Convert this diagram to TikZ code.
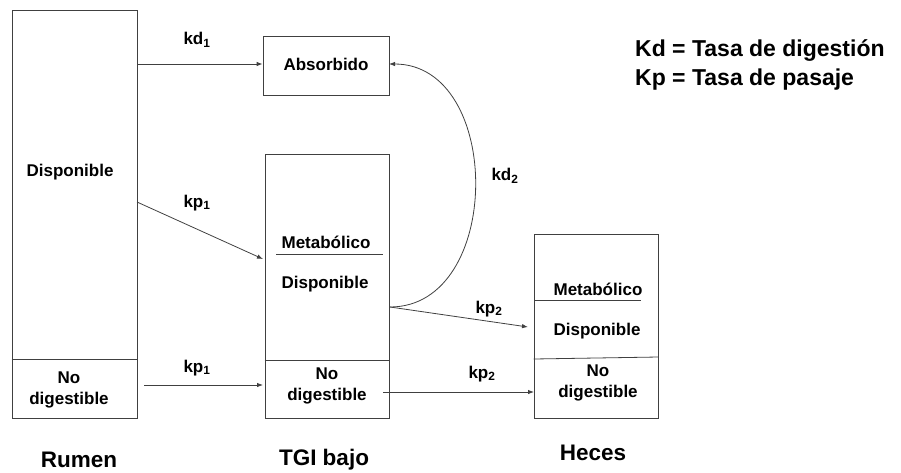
\documentclass[tikz,border=0pt]{standalone}
\usepackage{fontspec}
\setmainfont{Liberation Sans}
\usetikzlibrary{arrows.meta}
\begin{document}
\begin{tikzpicture}[x=1pt,y=-1pt,
  ln/.style={draw=black!75, line width=0.8pt},
  box/.style={ln, rectangle, inner sep=0pt},
  txt/.style={font=\fontsize{17}{21}\selectfont\bfseries, align=center, inner sep=0pt},
  lbl/.style={font=\fontsize{17}{19}\selectfont\bfseries, inner sep=0pt},
  ttl/.style={font=\fontsize{22.5}{26}\selectfont\bfseries, inner sep=0pt},
  leg/.style={font=\fontsize{23}{27}\selectfont\bfseries, anchor=west, inner sep=0pt},
  arr/.style={ln, -{Latex[length=6pt,width=4.5pt]}}]
\useasboundingbox (0,0) rectangle (901,472);

% boxes
\node[box, minimum width=125pt, minimum height=408pt] (rumen) at (74.5,214) {};
\node[box, minimum width=126pt, minimum height=59pt] (absorb) at (326,65.5) {};
\node[box, minimum width=124pt, minimum height=264pt] (tgi) at (327,286) {};
\node[box, minimum width=124pt, minimum height=184pt] (heces) at (596,326) {};

% dividers
\draw[ln] (rumen.west |- 0,359) -- (rumen.east |- 0,359);
\draw[ln] (tgi.west |- 0,360) -- (tgi.east |- 0,360);
\draw[ln] (heces.west |- 0,359) -- (heces.east |- 0,357);
\draw[ln] (276,254) -- (383,254);
\draw[ln] (535,300) -- (641,300);

% texts
\node[txt] (rdisp) at (70,172) {Disponible};
\node[txt] (rnod) at (69,390) {No\\digestible};
\node[txt] (absl) at (326,64) {Absorbido};
\node[txt] (tmet) at (326,242) {Metabólico};
\node[txt] (tdisp) at (325,284) {Disponible};
\node[txt] (tnod) at (327,386) {No\\digestible};
\node[txt] (hmet) at (598,289) {Metabólico};
\node[txt] (hdisp) at (597,331) {Disponible};
\node[txt] (hnod) at (598,383) {No\\digestible};

% titles
\node[ttl] (trumen) at (79,460) {Rumen};
\node[ttl] (ttgi) at (324,460) {TGI bajo};
\node[ttl] (theces) at (593,453) {Heces};

% legend
\node[leg] (leg1) at (635,50) {Kd = Tasa de digestión};
\node[leg] (leg2) at (635,80) {Kp = Tasa de pasaje};

% connector end points
\coordinate (r1) at (137,64);
\coordinate (r2) at (137,202);
\coordinate (t2) at (263,259);
\coordinate (r3) at (144,385);
\coordinate (t3) at (263,385);
\coordinate (tout) at (390,307);
\coordinate (aout) at (389,64);
\coordinate (h2) at (528,327);
\coordinate (tb) at (383,392);
\coordinate (hb) at (534,392);

% connectors
\draw[arr] (r1) -- (absorb.west |- r1);
\draw[arr] (r2) -- (t2);
\draw[arr] (r3) -- (t3);
\draw[arr] (tout) .. controls (503.5,307) and (503.5,64) .. (aout);
\draw[arr] (tout) -- (h2);
\draw[arr] (tb) -- (hb);

% connector labels
\node[lbl] (lkd1) at (197,40) {kd\textsubscript{1}};
\node[lbl] (lkp1a) at (197,203) {kp\textsubscript{1}};
\node[lbl] (lkp1b) at (197,368) {kp\textsubscript{1}};
\node[lbl] (lkd2) at (505,176) {kd\textsubscript{2}};
\node[lbl] (lkp2a) at (489,309) {kp\textsubscript{2}};
\node[lbl] (lkp2b) at (482,374) {kp\textsubscript{2}};
\end{tikzpicture}
\end{document}
